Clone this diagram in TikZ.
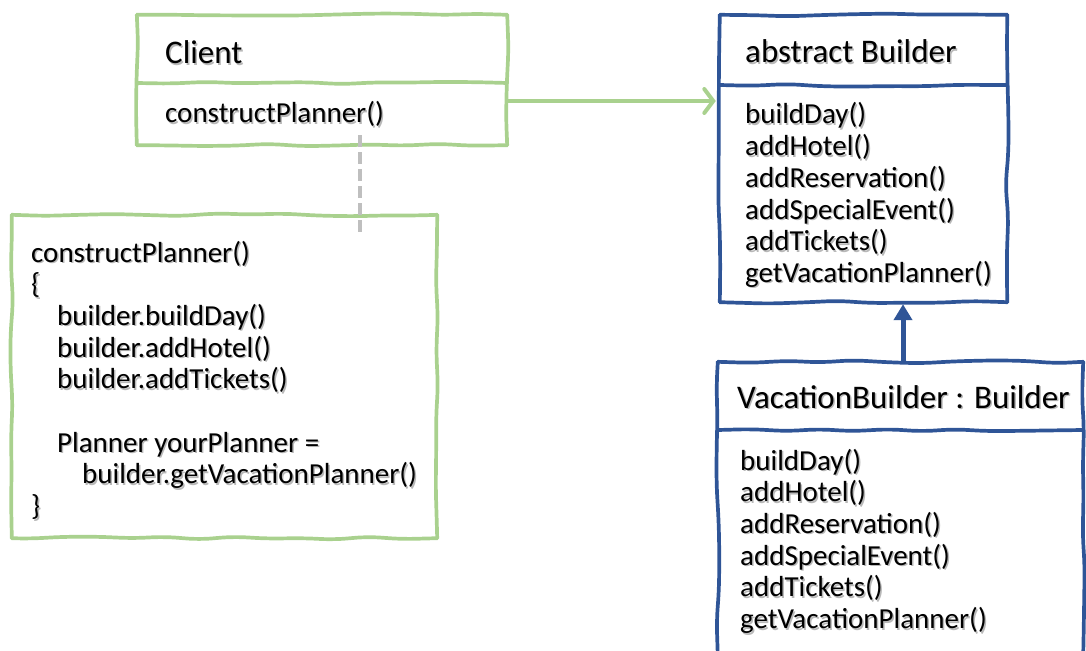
\documentclass[tikz,border=0pt]{standalone}
\usepackage{fontspec}
\setmainfont{Carlito}
\usetikzlibrary{decorations.pathmorphing,arrows.meta,calc}
\definecolor{grn}{RGB}{169,209,142}
\definecolor{blu}{RGB}{47,85,151}
\definecolor{gry}{RGB}{191,191,191}
\newcommand\shd[1]{\makebox[0pt][l]{\raisebox{-1.5pt}{\hspace{1.5pt}\textcolor{black!28}{#1}}}#1}
\newenvironment{lines}{\begin{tabular}[t]{@{}l@{}}}{\end{tabular}}
\newcommand\wavybox[2]{%
  \draw[wob,#2] (#1.north west) -- (#1.north east);
  \draw[wob,#2] (#1.north east) -- (#1.south east);
  \draw[wob,#2] (#1.south east) -- (#1.south west);
  \draw[wob,#2] (#1.south west) -- (#1.north west);}
\begin{document}
\begin{tikzpicture}[x=1pt,y=-1pt,
  box/.style={draw=none,inner sep=0pt,minimum width=#1},
  wob/.style={line width=3.7pt,decorate,decoration={random steps,segment length=34pt,amplitude=1.6pt},rounded corners=12pt,line join=round,line cap=round},
  body/.style={inner sep=0pt,anchor=base west,font=\fontsize{29}{31.7}\selectfont},
  title/.style={inner sep=0pt,anchor=base west,font=\fontsize{33}{36}\selectfont}]
\pgfmathsetseed{11}
\useasboundingbox (0,0) rectangle (1086,650);
\clip (0,0) rectangle (1086,650);
% box placeholders
\node[box=370pt,minimum height=130pt] (client) at (322,80) {};
\node[box=425pt,minimum height=323pt] (code) at (224.5,376.5) {};
\node[box=287pt,minimum height=287pt] (abuilder) at (863.5,158.5) {};
\node[box=365pt,minimum height=294pt] (vbuilder) at (900.5,509) {};
% borders
\wavybox{client}{grn}
\draw[wob,grn] (client.west |- 0,83) -- (client.east |- 0,83);
\wavybox{code}{grn}
\wavybox{abuilder}{blu}
\draw[wob,blu] (abuilder.west |- 0,85) -- (abuilder.east |- 0,85);
\wavybox{vbuilder}{blu}
\draw[wob,blu] (vbuilder.west |- 0,430) -- (vbuilder.east |- 0,430);
% connectors
\coordinate (ay) at (0,101);
\draw[grn,line width=4pt,line cap=round,-{Straight Barb[length=9pt,width=24pt,line cap=round]}] (client.east |- ay) -- ($(abuilder.west |- ay)+(-4,0)$);
\coordinate (dx) at (360,0);
\draw[gry,line width=4pt,dash pattern=on 12pt off 5pt] ($(dx |- client.south)+(0,-10)$) -- ($(dx |- code.north)+(0,18)$);
\coordinate (vx) at (903,0);
\draw[blu,line width=5pt,-{Triangle[length=16pt,width=18pt]}] (vx |- vbuilder.north) -- ($(vx |- abuilder.south)+(0,2)$);
% texts
\node[title] (tclient) at (165,64) {\shd{Client}};
\node[body] (mclient) at (165,123) {\shd{constructPlanner()}};
\node[body] (tcode) at (31,262) {\begin{lines}
\shd{constructPlanner()}\\
\shd{\{}\\
\hspace*{26pt}\shd{builder.buildDay()}\\
\hspace*{26pt}\shd{builder.addHotel()}\\
\hspace*{26pt}\shd{builder.addTickets()}\\
\\
\hspace*{26pt}\shd{Planner yourPlanner =}\\
\hspace*{51pt}\shd{builder.getVacationPlanner()}\\
\shd{\}}
\end{lines}};
\node[title] (tab) at (745,63) {\shd{abstract Builder}};
\node[body] (mab) at (745,124) {\begin{lines}\shd{buildDay()}\\\shd{addHotel()}\\\shd{addReservation()}\\\shd{addSpecialEvent()}\\\shd{addTickets()}\\\shd{getVacationPlanner()}\end{lines}};
\node[title] (tvb) at (737,408) {\shd{VacationBuilder : Builder}};
\node[body] (mvb) at (740,470) {\begin{lines}\shd{buildDay()}\\\shd{addHotel()}\\\shd{addReservation()}\\\shd{addSpecialEvent()}\\\shd{addTickets()}\\\shd{getVacationPlanner()}\end{lines}};
\end{tikzpicture}
\end{document}
